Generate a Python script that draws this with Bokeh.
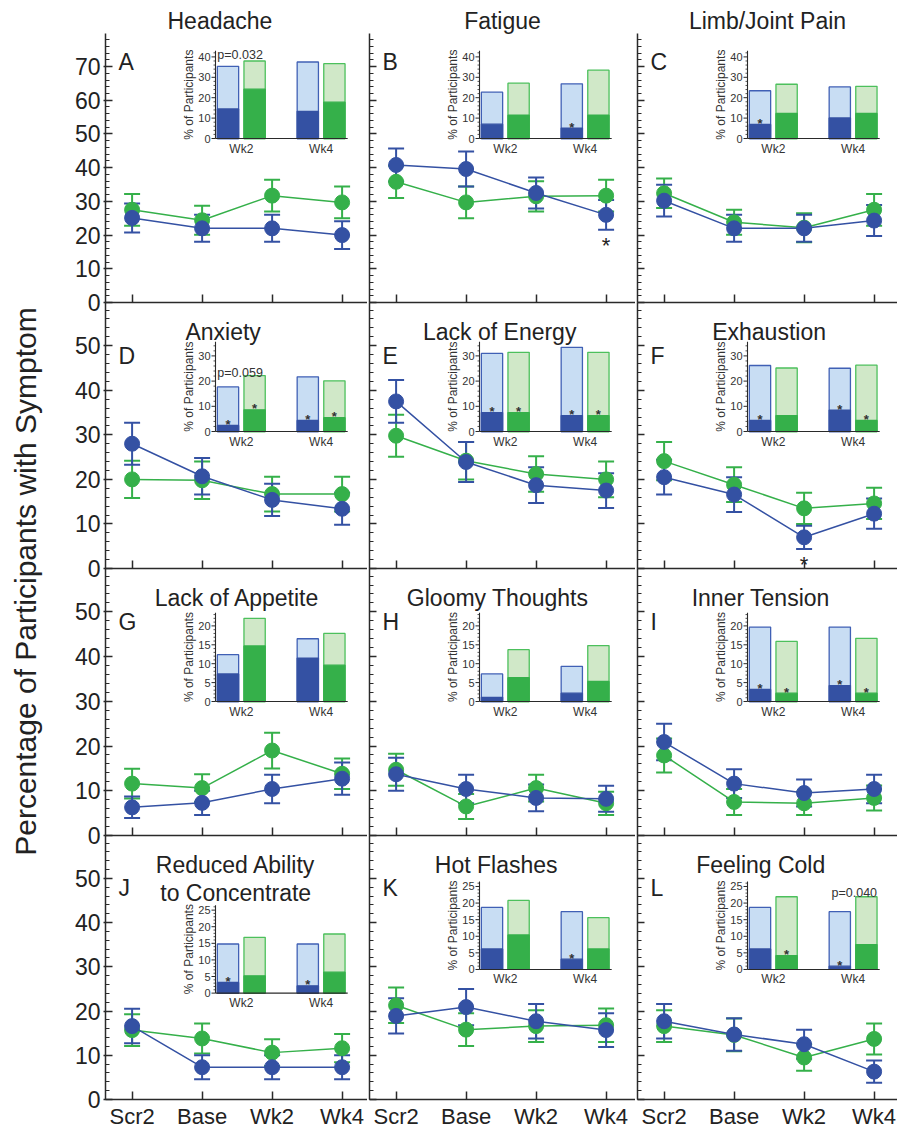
import numpy as np
from bokeh.plotting import figure
from bokeh.models import Range1d, FixedTicker, Whisker, TeeHead, ColumnDataSource
from bokeh.layouts import row, column
from bokeh.embed import file_html
from bokeh.resources import INLINE
from bokeh.core.properties import value

# ---------------- data ----------------
timepoints = ["Scr2", "Base", "Wk2", "Wk4"]
inset_groups = ["Wk2", "Wk4"]
symptoms = ["Headache", "Fatigue", "Limb/Joint Pain",
            "Anxiety", "Lack of Energy", "Exhaustion",
            "Lack of Appetite", "Gloomy Thoughts", "Inner Tension",
            "Reduced Ability\nto Concentrate", "Hot Flashes", "Feeling Cold"]
letters = ["A", "B", "C", "D", "E", "F", "G", "H", "I", "J", "K", "L"]
ylabel_text = "Percentage of Participants with Symptom"

blue_mean = [[25.1, 22.0, 22.0, 20.0], [40.8, 39.6, 32.5, 26.0], [30.2, 22.0, 22.0, 24.3],
             [28.0, 20.7, 15.4, 13.4], [37.5, 23.9, 18.7, 17.5], [20.5, 16.6, 7.0, 12.3],
             [6.3, 7.3, 10.4, 12.7], [13.7, 10.4, 8.4, 8.2], [20.9, 11.6, 9.5, 10.4],
             [16.6, 7.3, 7.3, 7.3], [18.9, 20.9, 17.7, 15.7], [17.7, 14.7, 12.5, 6.3]]
blue_err = [[4.3, 4.0, 4.0, 4.1], [4.9, 5.2, 4.6, 4.4], [4.7, 4.0, 4.0, 4.6],
            [4.7, 4.1, 3.6, 3.6], [4.8, 4.5, 4.0, 3.9], [3.9, 3.9, 2.6, 3.4],
            [2.4, 2.7, 3.2, 3.6], [3.7, 3.2, 3.0, 2.9], [4.1, 3.2, 3.0, 3.2],
            [3.9, 2.7, 2.7, 2.7], [4.0, 4.1, 3.9, 3.8], [3.9, 3.7, 3.3, 2.5]]
green_mean = [[27.5, 24.4, 31.7, 29.7], [35.8, 29.7, 31.5, 31.7], [32.4, 23.8, 22.2, 27.5],
              [20.0, 19.8, 16.7, 16.7], [29.8, 24.2, 21.2, 20.0], [24.1, 18.8, 13.5, 14.6],
              [11.6, 10.6, 19.0, 13.8], [14.7, 6.5, 10.6, 7.2], [17.9, 7.5, 7.2, 8.4],
              [15.7, 13.8, 10.6, 11.6], [21.3, 15.8, 16.6, 16.8], [16.6, 14.6, 9.5, 13.7]]
green_err = [[4.7, 4.3, 4.7, 4.7], [4.8, 4.7, 4.5, 4.7], [4.4, 3.7, 4.3, 4.7],
             [4.2, 4.2, 3.9, 3.9], [4.7, 4.2, 4.0, 4.0], [4.3, 3.9, 3.5, 3.5],
             [3.3, 3.1, 4.0, 3.4], [3.6, 2.8, 3.0, 2.6], [3.8, 2.9, 2.6, 2.8],
             [3.6, 3.4, 3.0, 3.2], [4.0, 3.7, 3.6, 3.8], [3.6, 3.7, 3.0, 3.5]]
# main-panel significance star (index of timepoint for the blue series, or None)
main_star = [None, 3, None, None, None, 2, None, None, None, None, None, None]

# inset bars: [Wk2, Wk4] totals (any severity) and dark part (moderate/severe)
blue_total = [[35.4, 37.5], [22.7, 26.8], [23.4, 25.3], [17.7, 21.7], [31.0, 33.4], [26.2, 25.1],
              [12.4, 16.6], [7.3, 9.3], [19.7, 19.7], [14.8, 14.8], [18.7, 17.4], [18.7, 17.4]]
blue_dark = [[14.5, 13.3], [7.0, 5.1], [6.9, 10.1], [2.4, 4.4], [7.5, 6.3], [4.4, 8.5],
             [7.3, 11.5], [1.1, 2.2], [3.2, 4.2], [3.2, 2.2], [6.2, 3.1], [6.2, 1.0]]
green_total = [[38.0, 36.7], [27.1, 33.5], [26.6, 25.6], [22.2, 20.1], [31.4, 31.4], [25.2, 26.3],
               [22.0, 18.0], [13.7, 14.8], [15.9, 16.7], [16.8, 17.8], [20.8, 15.6], [21.9, 21.9]]
green_dark = [[24.2, 17.8], [11.4, 11.4], [12.3, 12.3], [8.6, 5.5], [7.5, 6.3], [6.3, 4.4],
              [14.7, 9.6], [6.3, 5.3], [2.2, 2.2], [5.2, 6.3], [10.4, 6.2], [4.2, 7.5]]
# stars in insets, order: blue Wk2, green Wk2, blue Wk4, green Wk4
inset_star = [[0, 0, 0, 0], [0, 0, 1, 0], [1, 0, 0, 0], [1, 1, 1, 1], [1, 1, 1, 1], [1, 0, 1, 1],
              [0, 0, 0, 0], [0, 0, 0, 0], [1, 1, 1, 1], [1, 0, 1, 0], [0, 0, 1, 0], [0, 1, 1, 0]]
# p-value notes: panel index, text, group, height
p_panel = [0, 3, 11]
p_text = ["p=0.032", "p=0.059", "p=0.040"]
p_group = ["Wk2", "Wk2", "Wk4"]
p_y = [40.8, 23.4, 23.0]

# ---------------- style / layout ----------------
FONT = "Liberation Sans"
BLUE = "#3451A3"
GREEN = "#35B04A"
LBLUE = "#C8DDF3"
LGREEN = "#D0E8C8"
BLUE_EDGE = "#4060B5"
GREEN_EDGE = "#4CC05C"
AX = "#2a2a2a"
TXT = "#222222"

LW = 65
col_w = [262, 266, 260]
col_border = [40, 2, 2]
row_h = [269, 266, 267, 268]
row_top = [33, 0, 0, 0]
OVERLAP = 16
row_bottom = [OVERLAP, OVERLAP, OVERLAP, 28]
row_ymax = [79.8, 59.7, 59.7, 59.7]
row_ytick_max = [70, 50, 50, 50]
PX_X = 70.0
X0 = -0.38
letter_y = [71.3, 47.8, 47.8, 47.8]
title_y_in = 53.0
title_line_step = 6.2
title_x = [1.30, 1.49, 1.50, 1.30, 1.48, 1.50, 1.50, 1.45, 1.38, 1.48, 1.43, 1.38]
top_title_left = [62, None, None]   # px from frame left for row-1 titles (None = centred)

INS_U = 26.6
INS_L = 110.0
INS_X0 = -0.47
INS_X1 = 4.5
BAR_W = 0.8
ins_bottom = [[164, 164, 164], [137, 137, 137], [134, 134, 134], [108, 132, 132]]
ins_ppu = [2.04, 2.52, 3.78, 3.37]
ins_top = [43.0, 35.6, 23.5, 26.5]
ins_major = [10, 10, 5, 5]
ins_minor = [2, 2, 1, 1]


def style_axis(ax, show_labels, tick_out, size="22px"):
    ax.axis_line_color = AX
    ax.axis_line_width = 1.5
    ax.major_tick_line_color = AX
    ax.major_tick_line_width = 1.5
    ax.major_tick_out = tick_out
    if show_labels:
        ax.major_label_text_font_size = size
        ax.major_label_text_font = FONT
        ax.major_label_text_color = TXT
    else:
        ax.major_label_text_font_size = "1px"
        ax.major_label_text_color = None
        ax.major_label_standoff = 0


def make_panel(i):
    r, c = divmod(i, 3)
    W, H = col_w[c], row_h[r]
    p = figure(width=col_border[c] + W, height=row_top[r] + H + row_bottom[r],
               output_backend="svg", toolbar_location=None,
               x_range=Range1d(X0, X0 + W / PX_X), y_range=Range1d(0, row_ymax[r]),
               min_border_left=col_border[c], min_border_right=0,
               min_border_top=row_top[r], min_border_bottom=row_bottom[r])
    p.outline_line_color = None
    p.grid.visible = False
    p.background_fill_color = None
    p.border_fill_color = None

    # y axis
    ya = p.yaxis[0]
    ya.ticker = FixedTicker(ticks=list(range(0, row_ytick_max[r] + 1, 10)),
                            minor_ticks=list(np.arange(0, row_ymax[r], 2)))
    style_axis(ya, c == 0, 2 if c == 0 else 0, "23px")
    ya.major_tick_in = 7
    ya.minor_tick_line_color = AX
    ya.minor_tick_line_width = 1.2
    ya.minor_tick_in = 4
    ya.minor_tick_out = 0
    if c == 0:
        ya.major_label_standoff = 3

    # x axis
    xa = p.xaxis[0]
    xa.ticker = FixedTicker(ticks=list(range(len(timepoints))), minor_ticks=[])
    xa.major_label_overrides = {k: t for k, t in enumerate(timepoints)}
    style_axis(xa, r == 3, 0, "22px")
    xa.major_tick_in = 8
    xa.minor_tick_line_color = None
    if r == 3:
        xa.major_label_standoff = 4

    # ---------- inset ----------
    ixs = INS_X0 - INS_L / INS_U
    iys = -ins_bottom[r][c] / ins_ppu[r]
    p.extra_x_ranges = {"ix": Range1d(ixs, ixs + W / INS_U)}
    p.extra_y_ranges = {"iy": Range1d(iys, iys + H / ins_ppu[r])}
    kw = dict(x_range_name="ix", y_range_name="iy")
    pos = [g * 3 + s for g in range(len(inset_groups)) for s in range(2)]
    totals = [blue_total[i][0], green_total[i][0], blue_total[i][1], green_total[i][1]]
    darks = [blue_dark[i][0], green_dark[i][0], blue_dark[i][1], green_dark[i][1]]
    lights = [LBLUE, LGREEN, LBLUE, LGREEN]
    edges = [BLUE_EDGE, GREEN_EDGE, BLUE_EDGE, GREEN_EDGE]
    fulls = [BLUE, GREEN, BLUE, GREEN]
    p.vbar(x=pos, top=totals, bottom=0, width=BAR_W, fill_color=lights,
           line_color=edges, line_width=1.3, **kw)
    p.vbar(x=pos, top=darks, bottom=0, width=BAR_W, fill_color=fulls,
           line_color=fulls, line_width=1.3, **kw)
    sx = [pos[k] for k in range(4) if inset_star[i][k]]
    sy = [darks[k] for k in range(4) if inset_star[i][k]]
    if sx:
        p.text(x=sx, y=sy, text=["*"] * len(sx), text_align="center", text_baseline="alphabetic",
               y_offset=-1, text_font_size="13px", text_font_style="bold",
               text_font=value(FONT), text_color="#333333", **kw)
    top = ins_top[r]
    p.segment(x0=[INS_X0, INS_X0], y0=[0, 0], x1=[INS_X0, INS_X1], y1=[top, 0],
              line_color=AX, line_width=1.1, **kw)
    majors = list(range(0, int(top) + 1, ins_major[r]))
    minors = [v for v in range(0, int(top) + 1, ins_minor[r]) if v not in majors]
    tl = 4.0 / INS_U
    tm = 2.0 / INS_U
    p.segment(x0=[INS_X0] * len(majors), y0=majors, x1=[INS_X0 - tl] * len(majors), y1=majors,
              line_color=AX, line_width=1.0, **kw)
    p.segment(x0=[INS_X0] * len(minors), y0=minors, x1=[INS_X0 - tm] * len(minors), y1=minors,
              line_color=AX, line_width=0.8, **kw)
    p.text(x=[INS_X0] * len(majors), y=majors, text=[str(v) for v in majors], x_offset=-5,
           text_align="right", text_baseline="middle", text_font_size="11px",
           text_font=value(FONT), text_color="#333333", **kw)
    p.text(x=[INS_X0], y=[top / 2], text=["% of Participants"], angle=np.pi / 2, x_offset=-27,
           text_align="center", text_baseline="middle", text_font_size="12px",
           text_font=value(FONT), text_color="#333333", **kw)
    p.text(x=[g * 3 + 0.5 for g in range(len(inset_groups))], y=[0, 0], text=inset_groups,
           y_offset=3, text_align="center", text_baseline="top", text_font_size="12px",
           text_font=value(FONT), text_color="#333333", **kw)
    for k, pi_ in enumerate(p_panel):
        if pi_ == i:
            g = inset_groups.index(p_group[k])
            if g == 0:
                p.text(x=[g * 3 - BAR_W / 2], y=[p_y[k]], text=[p_text[k]], text_align="left",
                       text_baseline="alphabetic", text_font_size="12.5px",
                       text_font=value(FONT), text_color="#333333", **kw)
            else:
                p.text(x=[g * 3 + 1 + BAR_W / 2], y=[p_y[k]], text=[p_text[k]], text_align="right",
                       text_baseline="alphabetic", text_font_size="12.5px",
                       text_font=value(FONT), text_color="#333333", **kw)

    # ---------- main series ----------
    xs = list(range(len(timepoints)))
    for col, mean, err in [(GREEN, green_mean[i], green_err[i]), (BLUE, blue_mean[i], blue_err[i])]:
        src = ColumnDataSource(dict(x=xs, y=mean,
                                    lo=[m - e for m, e in zip(mean, err)],
                                    hi=[m + e for m, e in zip(mean, err)]))
        w = Whisker(source=src, base="x", lower="lo", upper="hi", line_color=col, line_width=2,
                    level="underlay",
                    lower_head=TeeHead(size=16, line_color=col, line_width=2),
                    upper_head=TeeHead(size=16, line_color=col, line_width=2))
        p.add_layout(w)
        p.line("x", "y", source=src, line_color=col, line_width=1.5)
        p.scatter("x", "y", source=src, size=15, fill_color=col, line_color=col)
    if main_star[i] is not None:
        k = main_star[i]
        p.text(x=[k], y=[blue_mean[i][k] - blue_err[i][k]], text=["*"], y_offset=3,
               text_align="center", text_baseline="top", text_font_size="22px",
               text_font=value(FONT), text_color=TXT)

    # ---------- letter & title ----------
    p.text(x=[X0], y=[letter_y[r]], text=[letters[i]], x_offset=13, text_align="left",
           text_baseline="alphabetic", text_font_size="23px", text_font=value(FONT), text_color=TXT)
    lines = symptoms[i].split("\n")
    if r == 0:
        p.title.text = symptoms[i]
        if top_title_left[c] is None:
            p.title.align = "center"
        else:
            p.title.align = "left"
            p.title.offset = top_title_left[c]
        p.title.text_font = FONT
        p.title.text_font_size = "23px"
        p.title.text_font_style = "normal"
        p.title.text_color = TXT
        p.title.standoff = 0
    else:
        p.text(x=[title_x[i]] * len(lines),
               y=[title_y_in - j * title_line_step for j in range(len(lines))],
               text=lines, text_align="center", text_baseline="alphabetic",
               text_font_size="23px", text_font=value(FONT), text_color=TXT)
    return p


panels = [make_panel(i) for i in range(12)]
rows = []
for r in range(4):
    rr = row(*panels[3 * r:3 * r + 3])
    st = {"position": "relative", "z-index": str(10 - r)}
    if r > 0:
        st["margin-top"] = "-%dpx" % OVERLAP
    rr.styles = st
    rows.append(rr)

TOTAL_H = sum(row_top) + sum(row_h) + row_bottom[-1]
lab = figure(width=LW, height=TOTAL_H, x_range=Range1d(0, 1), y_range=Range1d(0, 1),
             output_backend="svg", toolbar_location=None, x_axis_location=None,
             y_axis_location=None, min_border=0)
lab.outline_line_color = None
lab.grid.visible = False
lab.text(x=[25.0 / LW], y=[1 - 581.0 / TOTAL_H], text=[ylabel_text], angle=np.pi / 2,
         text_align="center", text_baseline="middle", text_font_size="30px",
         text_font=value(FONT), text_color=TXT)

layout = row(lab, column(*rows))
open("out.html", "w").write(file_html(layout, INLINE))
